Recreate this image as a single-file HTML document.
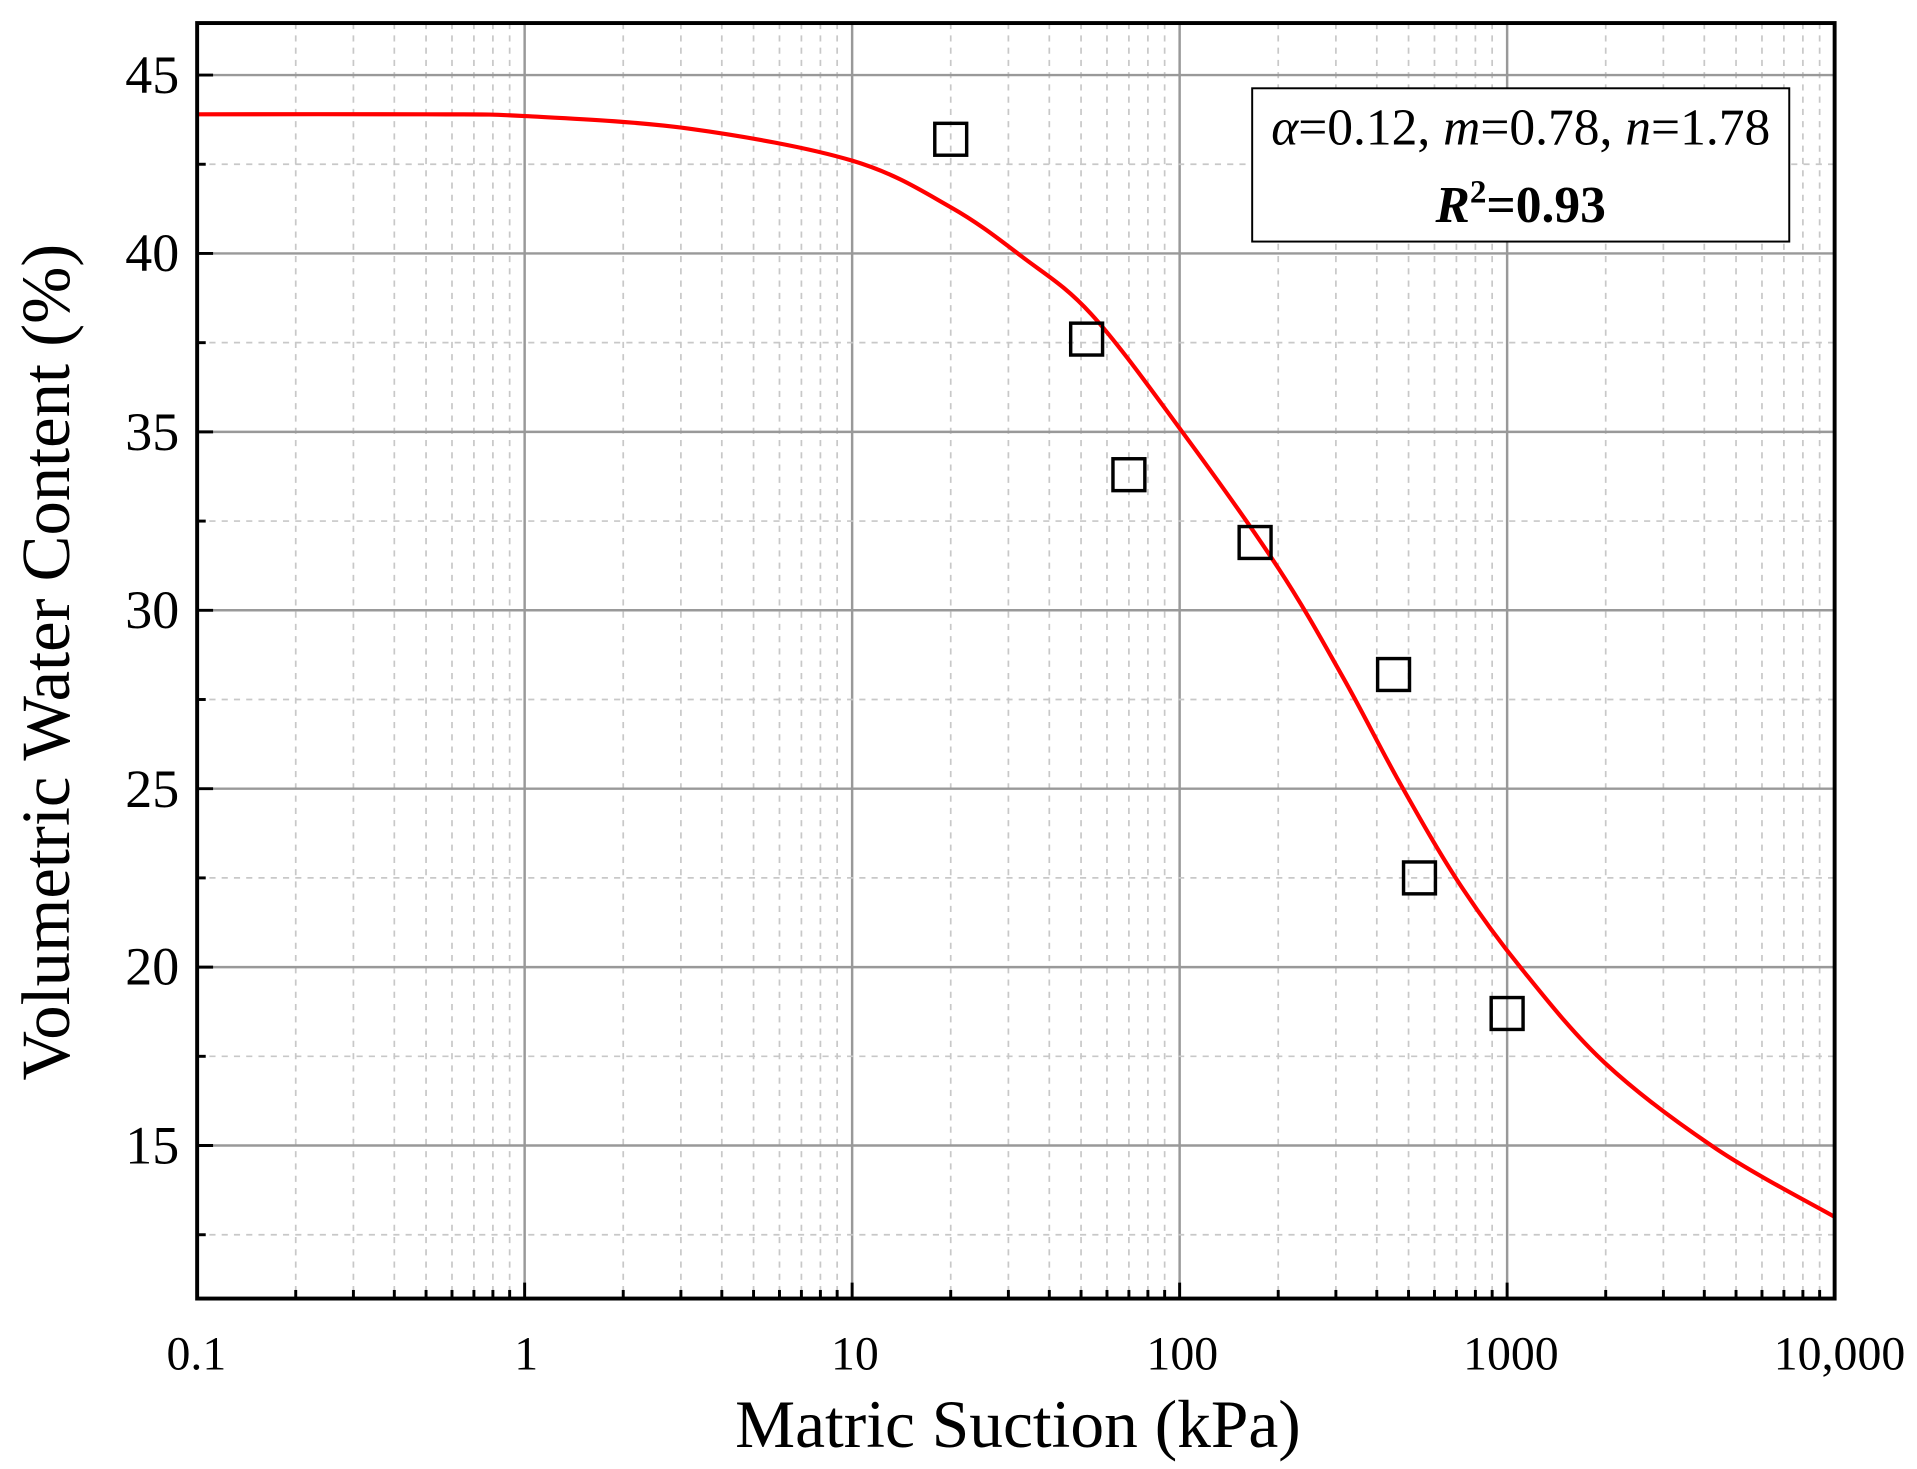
<!DOCTYPE html>
<html><head><meta charset="utf-8"><style>html,body{margin:0;padding:0;background:#fff}svg{display:block}</style></head>
<body>
<svg id="s" xmlns="http://www.w3.org/2000/svg" width="1917" height="1469" viewBox="0 0 1563 1198" font-family="'Liberation Serif', serif">
<rect width="1563" height="1198" fill="#fff"/>
<g id="grid"></g>
<g id="ticks"></g>
<path id="curve" fill="none" stroke="#ff0000" stroke-width="3.4"/>
<g id="pts" fill="none" stroke="#000" stroke-width="2.8"></g>
<rect x="160.6" y="18.8" width="1335.4" height="1040.2" fill="none" stroke="#000" stroke-width="3.2"/>
<rect x="1021" y="72" width="438" height="125" fill="#fff" stroke="#000" stroke-width="1.6"/>
<text x="1240" y="118" font-size="42" text-anchor="middle"><tspan font-style="italic">α</tspan>=0.12, <tspan font-style="italic">m</tspan>=0.78, <tspan font-style="italic">n</tspan>=1.78</text>
<text x="1240" y="181" font-size="42" text-anchor="middle" font-weight="bold"><tspan font-style="italic">R</tspan><tspan font-size="27" dy="-16">2</tspan><tspan dy="16">=0.93</tspan></text>
<g font-size="39" text-anchor="middle" fill="#000">
<text x="160" y="1117">0.1</text><text x="429" y="1117">1</text><text x="697" y="1117">10</text><text x="964" y="1117">100</text><text x="1232" y="1117">1000</text><text x="1500" y="1117">10,000</text>
</g>
<g font-size="44" text-anchor="end" fill="#000">
<text x="146" y="76">45</text><text x="146" y="221">40</text><text x="146" y="367">35</text><text x="146" y="512">30</text><text x="146" y="658">25</text><text x="146" y="803">20</text><text x="146" y="949">15</text>
</g>
<text x="830" y="1180" font-size="55" text-anchor="middle">Matric Suction (kPa)</text>
<text transform="translate(56,540) rotate(-90)" font-size="56" text-anchor="middle">Volumetric Water Content (%)</text>
</svg>
<script>
var L=160.6,R=1496,T=18.8,B=1059,D=(R-L)/5;
function XL(l){return L+(l+1)*D}
function X(h){return XL(Math.log10(h))}
function Y(t){return 61.2+(45-t)*29.1}
var g='',tk='';
for(var d=-1;d<4;d++){for(var k=2;k<10;k++){var x=X(k*Math.pow(10,d));g+='<line x1="'+x+'" y1="'+T+'" x2="'+x+'" y2="'+B+'" stroke="#c8c8c8" stroke-width="1.4" stroke-dasharray="5,5"/>';tk+='<line x1="'+x+'" y1="'+B+'" x2="'+x+'" y2="'+(B-7)+'" stroke="#000" stroke-width="2.4"/>';}}
for(var d=0;d<4;d++){var x=X(Math.pow(10,d));g+='<line x1="'+x+'" y1="'+T+'" x2="'+x+'" y2="'+B+'" stroke="#999" stroke-width="2"/>';tk+='<line x1="'+x+'" y1="'+B+'" x2="'+x+'" y2="'+(B-13)+'" stroke="#000" stroke-width="2.4"/>';}
for(var t=12.5;t<46;t+=2.5){var y=Y(t);if(t%5==0){g+='<line x1="'+L+'" y1="'+y+'" x2="'+R+'" y2="'+y+'" stroke="#999" stroke-width="2"/>';tk+='<line x1="'+L+'" y1="'+y+'" x2="'+(L+13)+'" y2="'+y+'" stroke="#000" stroke-width="2.4"/>';}else{g+='<line x1="'+L+'" y1="'+y+'" x2="'+R+'" y2="'+y+'" stroke="#c8c8c8" stroke-width="1.4" stroke-dasharray="5,5"/>';tk+='<line x1="'+L+'" y1="'+y+'" x2="'+(L+7)+'" y2="'+y+'" stroke="#000" stroke-width="2.4"/>';}}
document.getElementById('grid').innerHTML=g;document.getElementById('ticks').innerHTML=tk;
var P=[[-1,43.9],[-0.3,43.9],[0,43.85],[0.5,43.5],[1,42.6],[1.3,41.3],[1.52,39.9],[1.73,38.3],[2.0,35.1],[2.3,31.2],[2.5,28.1],[2.67,25.2],[2.85,22.4],[3.04,20],[3.3,17.3],[3.64,14.9],[4,13]];
var q=P.map(function(p){return [XL(p[0]),Y(p[1])]});
var s='M'+q[0][0]+','+q[0][1];
for(var i=0;i<q.length-1;i++){var p0=q[Math.max(i-1,0)],p1=q[i],p2=q[i+1],p3=q[Math.min(i+2,q.length-1)];
s+=' C'+(p1[0]+(p2[0]-p0[0])/6)+','+(p1[1]+(p2[1]-p0[1])/6)+' '+(p2[0]-(p3[0]-p1[0])/6)+','+(p2[1]-(p3[1]-p1[1])/6)+' '+p2[0]+','+p2[1];}
document.getElementById('curve').setAttribute('d',s);
var D2=[[20,43.2],[52,37.6],[70,33.8],[170,31.9],[450,28.2],[540,22.5],[1000,18.7]],r='';
D2.forEach(function(p){var x=X(p[0]),y=Y(p[1]);r+='<rect x="'+(x-13)+'" y="'+(y-13)+'" width="26" height="26"/>';});
document.getElementById('pts').innerHTML=r;
</script>
</body></html>
